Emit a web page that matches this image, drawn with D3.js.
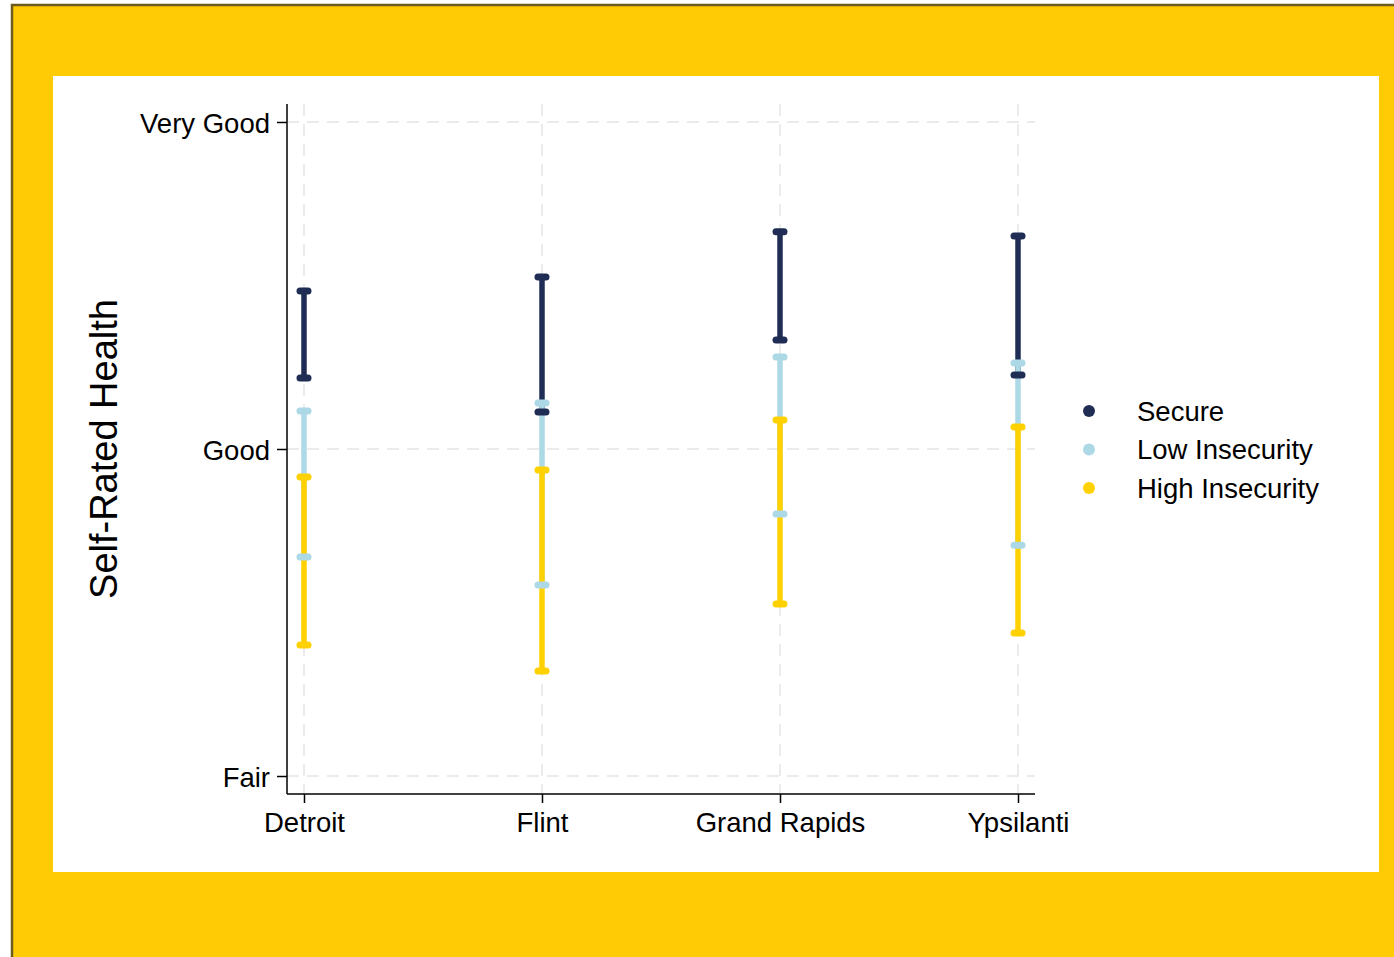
<!DOCTYPE html>
<html><head><meta charset="utf-8">
<script src="https://cdn.jsdelivr.net/npm/d3@7"></script>
<style>body{margin:0;background:#fff;}svg{display:block;font-family:"Liberation Sans",Arial,Helvetica,sans-serif;}</style>
</head><body><svg id="c" width="1394" height="957"></svg>
<script>
const cities = ["Detroit", "Flint", "Grand Rapids", "Ypsilanti"];
const groups = ["Secure", "Low Insecurity", "High Insecurity"];
const colors = ["#1f2d55", "#add8e6", "#ffd100"];
// CI bounds on the 1-5 scale (Fair=3, Good=4, Very Good=5)
const secureLow  = [4.217, 4.113, 4.333, 4.226];
const secureHigh = [4.483, 4.526, 4.664, 4.651];
const lowInsLow  = [3.670, 3.584, 3.801, 3.706];
const lowInsHigh = [4.116, 4.141, 4.281, 4.263];
const highInsLow = [3.401, 3.321, 3.526, 3.437];
const highInsHigh= [3.914, 3.936, 4.089, 4.067];
const yTickValues = [3, 4, 5];
const yTickLabels = ["Fair", "Good", "Very Good"];
const yTitle = "Self-Rated Health";

const lows = [secureLow, lowInsLow, highInsLow];
const highs = [secureHigh, lowInsHigh, highInsHigh];

const svg = d3.select("#c");
// frame
svg.append("rect").attr("x", 12).attr("y", 5).attr("width", 1394).attr("height", 960)
  .attr("fill", "#ffcb05").attr("stroke", "#6e5c1f").attr("stroke-width", 2.5);
svg.append("rect").attr("x", 53).attr("y", 76).attr("width", 1326).attr("height", 796).attr("fill", "#fff");

const L = 287, R = 1035, T = 104, B = 794;
const x = d3.scaleLinear().domain([0.9286, 4.0714]).range([L, R]);
const y = d3.scaleLinear().domain([2.945, 5.055]).range([B, T]);

const g = svg.append("g");
// gridlines
g.selectAll(".hg").data(yTickValues).join("line")
  .attr("x1", L).attr("x2", R).attr("y1", d => y(d)).attr("y2", d => y(d))
  .attr("stroke", "#ebebeb").attr("stroke-width", 2).attr("stroke-dasharray", "12,8");
g.selectAll(".vg").data(cities).join("line")
  .attr("x1", (d, i) => x(i + 1)).attr("x2", (d, i) => x(i + 1)).attr("y1", T).attr("y2", B)
  .attr("stroke", "#ebebeb").attr("stroke-width", 2).attr("stroke-dasharray", "12,8");

// axes
const yAxis = d3.axisLeft(y).tickValues(yTickValues).tickFormat((d, i) => yTickLabels[i]).tickSize(10).tickPadding(7);
const ya = svg.append("g").attr("transform", `translate(${L},0)`).call(yAxis);
const xAxis = d3.axisBottom(x).tickValues([1, 2, 3, 4]).tickFormat(d => cities[d - 1]).tickSize(9).tickPadding(6);
const xa = svg.append("g").attr("transform", `translate(0,${B})`).call(xAxis);
[ya, xa].forEach(a => {
  a.select(".domain").attr("stroke", "#000").attr("stroke-width", 1.5)
    .attr("d", a === ya ? `M0,${T}V${B}` : `M${L},0H${R}`);
  a.selectAll(".tick line").attr("stroke", "#000").attr("stroke-width", 1.5);
  a.selectAll("text").attr("font-size", 27.5).attr("fill", "#000").attr("font-family", "Liberation Sans, Arial, sans-serif");
});
ya.selectAll("text").attr("dy", "0.37em");
xa.selectAll("text").attr("dy", "0.85em");

svg.append("text").attr("transform", `translate(117,449) rotate(-90)`)
  .attr("text-anchor", "middle").attr("font-size", 38).attr("fill", "#000").text(yTitle);

// error bars: lines first, then caps
const bars = [];
groups.forEach((gname, gi) => cities.forEach((c, ci) => bars.push({gi, ci, lo: lows[gi][ci], hi: highs[gi][ci]})));
const eb = svg.append("g");
eb.selectAll(".ebl").data(bars).join("line")
  .attr("x1", d => x(d.ci + 1)).attr("x2", d => x(d.ci + 1))
  .attr("y1", d => y(d.hi)).attr("y2", d => y(d.lo))
  .attr("stroke", d => colors[d.gi]).attr("stroke-width", 5.5);
const caps = [];
bars.forEach(b => { caps.push({...b, v: b.hi}); caps.push({...b, v: b.lo}); });
eb.selectAll(".cap").data(caps).join("line")
  .attr("x1", d => x(d.ci + 1) - 4).attr("x2", d => x(d.ci + 1) + 4)
  .attr("y1", d => y(d.v)).attr("y2", d => y(d.v))
  .attr("stroke", d => colors[d.gi]).attr("stroke-width", 7).attr("stroke-linecap", "round");

// legend
const lg = svg.append("g");
groups.forEach((gname, i) => {
  const yy = 411 + i * 38.5;
  lg.append("circle").attr("cx", 1089).attr("cy", yy).attr("r", 6).attr("fill", colors[i]);
  lg.append("text").attr("x", 1137).attr("y", yy).attr("dy", "0.36em").attr("font-size", 27.5).attr("fill", "#000").text(gname);
});
</script></body></html>
